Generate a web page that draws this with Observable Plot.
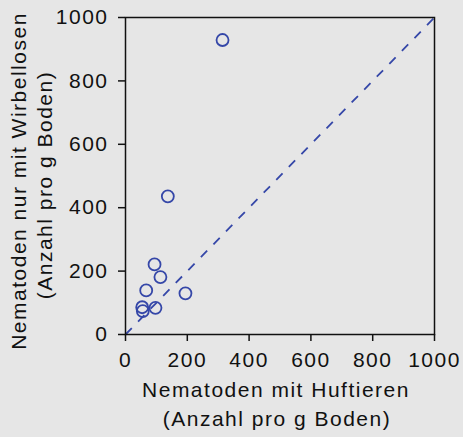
<!DOCTYPE html>
<html>
<head>
<meta charset="utf-8">
<script src="https://cdn.jsdelivr.net/npm/d3@7"></script>
<script src="https://cdn.jsdelivr.net/npm/@observablehq/plot@0.6"></script>
<style>
  html, body { margin: 0; padding: 0; background: #e6e6e6; }
</style>
</head>
<body>
<div id="chart"></div>
<script>
// Data
const huftiere = [94, 113, 67, 194, 54, 56, 97, 137, 314];      // x: Nematoden mit Huftieren
const wirbellose = [221, 181, 139, 130, 86, 74, 84, 436, 929];  // y: Nematoden nur mit Wirbellosen
const diagonal = [0, 1000];                                     // 1:1 line ends
const xTicks = [0, 200, 400, 600, 800, 1000];
const yTicks = [0, 200, 400, 600, 800, 1000];
const xLabel = ["Nematoden mit Huftieren", "(Anzahl pro g Boden)"];
const yLabel = ["Nematoden nur mit Wirbellosen", "(Anzahl pro g Boden)"];

const points = huftiere.map((x, i) => ({x, y: wirbellose[i]}));
const blue = "#3547a8";

const chart = Plot.plot({
  width: 463,
  height: 437,
  marginLeft: 125,
  marginRight: 29,
  marginTop: 17,
  marginBottom: 103,
  style: {
    background: "#e6e6e6",
    fontFamily: "'Liberation Sans', Arial, sans-serif",
    fontSize: "21px",
    letterSpacing: "1.5px",
    color: "#111"
  },
  x: {domain: [0, 1000]},
  y: {domain: [0, 1000]},
  marks: [
    Plot.link([0], {
      x1: () => diagonal[0], y1: () => diagonal[0],
      x2: () => diagonal[1], y2: () => diagonal[1],
      stroke: blue, strokeWidth: 1.8, strokeDasharray: "9,9"
    }),
    Plot.dot(points, {x: "x", y: "y", r: 6, stroke: blue, strokeWidth: 1.8, fill: "none"}),
    Plot.frame({stroke: "#111", strokeWidth: 1.5}),
    Plot.axisX({ticks: xTicks, tickSize: 7, tickPadding: 11, strokeWidth: 1.5, label: null, tickFormat: d => String(d)}),
    Plot.axisY({ticks: yTicks, tickSize: 7, tickPadding: 10, strokeWidth: 1.5, label: null, tickFormat: d => String(d)}),
    Plot.text([xLabel[0]], {frameAnchor: "bottom", text: d => d, dy: 56, dx: -4, textAnchor: "middle", lineAnchor: "middle", fill: "#111"}),
    Plot.text([xLabel[1]], {frameAnchor: "bottom", text: d => d, dy: 85, dx: -3, textAnchor: "middle", lineAnchor: "middle", fill: "#111"}),
    Plot.text([yLabel[0]], {frameAnchor: "left", text: d => d, rotate: -90, dx: -106, dy: 5, textAnchor: "middle", lineAnchor: "middle", fill: "#111"}),
    Plot.text([yLabel[1]], {frameAnchor: "left", text: d => d, rotate: -90, dx: -80, dy: 9, textAnchor: "middle", lineAnchor: "middle", fill: "#111"})
  ]
});
document.getElementById("chart").appendChild(chart);
</script>
</body>
</html>
